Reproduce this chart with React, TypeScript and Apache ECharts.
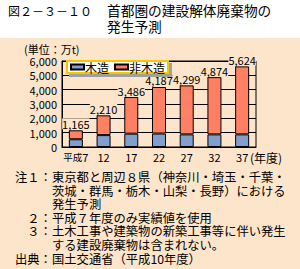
import React, { useEffect, useRef } from "react";
import * as echarts from "echarts";

const categories = ["平成7", "12", "17", "22", "27", "32", "37"];
const woodValues = [540, 830, 930, 940, 880, 880, 880];
const nonWoodValues = [625, 1380, 2556, 3247, 3419, 3994, 4744];
const totalLabels = ["1,165", "2,210", "3,486", "4,187", "4,299", "4,874", "5,624"];
const seriesNames = ["木造", "非木造"];
const notePrefixes = ["注１：", "", "", "２：", "３：", "", "出典："];
const noteBodies = [
  "東京都と周辺８県（神奈川・埼玉・千葉・",
  "茨城・群馬・栃木・山梨・長野）における",
  "発生予測",
  "平成７年度のみ実績値を使用",
  "土木工事や建築物の新築工事等に伴い発生",
  "する建設廃棄物は含まれない。",
  "国土交通省（平成10年度）",
];

const BG = "#fde5cb";
const BLUE = "#819fcd";
const ORANGE = "#ff8063";
const FONT = "'Noto Sans CJK JP', 'Noto Sans', sans-serif";

export default function App() {
  const ref = useRef<HTMLDivElement>(null);
  useEffect(() => {
    document.body.style.margin = "0";
    const chart = echarts.init(ref.current!, null, { renderer: "svg" });
    const LH = 13.6;
    chart.setOption({
      animation: false,
      textStyle: { fontFamily: FONT },
      graphic: [
        { type: "rect", left: 0, top: 38, shape: { width: 300, height: 231 }, style: { fill: BG }, z: -10 },
        { type: "text", left: 8, top: 4, style: { text: "図２－３－１０", fontSize: 12, fontFamily: FONT, fill: "#000" } },
        { type: "text", left: 107, top: 3, style: { text: "首都圏の建設解体廃棄物の", fontSize: 13.7, fontFamily: FONT, fill: "#000" } },
        { type: "text", left: 107, top: 19, style: { text: "発生予測", fontSize: 13.7, fontFamily: FONT, fill: "#000" } },
        { type: "text", left: 24, top: 43, style: { text: "(単位：万t)", fontSize: 11, lineHeight: 11, fontFamily: FONT, fill: "#000" } },
        { type: "text", left: 250, top: 151, style: { text: "(年度)", fontSize: 12, lineHeight: 12, fontFamily: FONT, fill: "#000" } },
        {
          type: "text",
          left: 15,
          top: 177 - LH / 2,
          style: {
            text: notePrefixes.join("\n"),
            fontSize: 12.3,
            lineHeight: LH,
            fontFamily: FONT,
            fill: "#000",
            textAlign: "right",
          },
        },
        {
          type: "text",
          left: 52,
          top: 177 - LH / 2,
          style: {
            text: noteBodies.join("\n"),
            fontSize: 12.3,
            lineHeight: LH,
            fontFamily: FONT,
            fill: "#000",
          },
        },
      ],
      legend: {
        left: 67,
        top: 61,
        data: seriesNames,
        icon: "rect",
        itemWidth: 13,
        itemHeight: 5,
        itemGap: 5,
        padding: [0, 3],
        backgroundColor: "#fff",
        borderColor: "#f5c800",
        borderWidth: 2,
        shadowColor: "#a0a0a0",
        shadowOffsetX: 3,
        shadowOffsetY: 3,
        shadowBlur: 0,
        textStyle: { fontSize: 12, color: "#000", padding: [0, 0, 0, -4] },
      },
      grid: { left: 62, right: 44, top: 61, bottom: 122, show: true, borderColor: "#000", borderWidth: 1 },
      xAxis: {
        type: "category",
        data: categories,
        axisLine: { lineStyle: { color: "#000", width: 1 } },
        axisTick: { inside: true, length: 3, lineStyle: { color: "#000" } },
        axisLabel: {
          interval: 0,
          color: "#000",
          fontSize: 11,
          lineHeight: 11,
          margin: 4,
          formatter: (v: string) => (v.startsWith("平成") ? "{s|平成}" + v.slice(2) : v),
          rich: { s: { fontSize: 9.5, color: "#000" } },
        },
      },
      yAxis: {
        type: "value",
        min: 0,
        max: 6000,
        interval: 1000,
        axisLine: { show: true, lineStyle: { color: "#000" } },
        axisTick: { show: false },
        splitLine: { lineStyle: { color: "#000", width: 1 } },
        axisLabel: {
          color: "#000",
          fontSize: 11,
          lineHeight: 11,
          margin: 5,
          formatter: (v: number) => v.toLocaleString("en-US"),
        },
      },
      series: [
        {
          name: seriesNames[0],
          type: "bar",
          stack: "t",
          data: woodValues,
          barWidth: 14,
          itemStyle: { color: BLUE, borderColor: "#000", borderWidth: 1 },
        },
        {
          name: seriesNames[1],
          type: "bar",
          stack: "t",
          data: nonWoodValues,
          barWidth: 14,
          itemStyle: { color: ORANGE, borderColor: "#000", borderWidth: 1 },
          label: {
            show: true,
            position: "top",
            distance: 1,
            color: "#000",
            fontSize: 11,
            lineHeight: 11,
            backgroundColor: BG,
            padding: [0, 0],
            formatter: (p: any) => totalLabels[p.dataIndex],
          },
        },
      ],
    });
    return () => chart.dispose();
  }, []);
  return <div ref={ref} style={{ width: 300, height: 269 }} />;
}
